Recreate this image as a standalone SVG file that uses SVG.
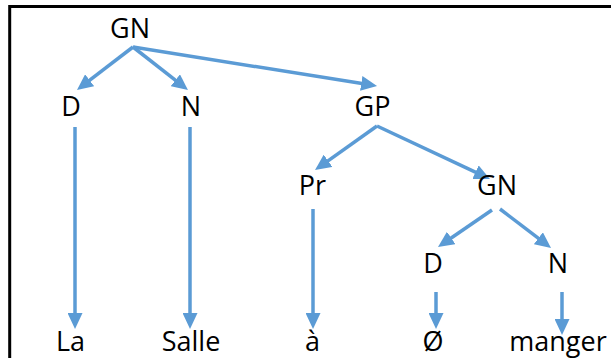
<svg xmlns="http://www.w3.org/2000/svg" width="611" height="358" viewBox="0 0 611 358">
<style>
.t{font-family:"Open Sans","Noto Sans","Liberation Sans",sans-serif;font-size:27px;fill:#000;text-anchor:middle}
.c line{stroke:#5B9BD5;stroke-width:3.5;marker-end:url(#ah)}
</style>
<defs>
<marker id="ah" markerUnits="userSpaceOnUse" markerWidth="16" markerHeight="15" refX="4" refY="7.5" orient="auto" viewBox="0 0 16 15">
<path d="M0,0 L16,7.5 L0,15 z" fill="#5B9BD5"/>
</marker>
</defs>
<rect width="611" height="358" fill="#fff"/>
<path d="M9.7,358 V6.5 H611" fill="none" stroke="#000" stroke-width="3"/>
<g class="c" id="connectors">
<line x1="133" y1="47" x2="86.5" y2="82.7"/>
<line x1="133" y1="47" x2="178.5" y2="82.7"/>
<line x1="133" y1="47" x2="365.2" y2="84.1"/>
<line x1="75" y1="127" x2="75" y2="317"/>
<line x1="190" y1="127" x2="190" y2="317"/>
<line x1="377" y1="126" x2="324.8" y2="163.1"/>
<line x1="377" y1="126" x2="479.1" y2="173.9"/>
<line x1="313" y1="209" x2="313" y2="317"/>
<line x1="492" y1="210" x2="447.9" y2="240.2"/>
<line x1="500" y1="209" x2="541.5" y2="240.7"/>
<line x1="436" y1="292" x2="436" y2="317"/>
<line x1="562" y1="292" x2="562" y2="323"/>
</g>
<g id="n-GN"><text class="t" x="130" y="38">GN</text></g>
<g id="n-D"><text class="t" x="71" y="116">D</text></g>
<g id="n-N"><text class="t" x="191" y="116">N</text></g>
<g id="n-GP"><text class="t" x="372.5" y="116">GP</text></g>
<g id="n-Pr"><text class="t" x="312.5" y="195">Pr</text></g>
<g id="n-GN2"><text class="t" x="497" y="195">GN</text></g>
<g id="n-D2"><text class="t" x="433" y="273">D</text></g>
<g id="n-N2"><text class="t" x="558" y="273">N</text></g>
<g id="n-La"><text class="t" x="70.5" y="351">La</text></g>
<g id="n-Salle"><text class="t" x="191" y="351">Salle</text></g>
<g id="n-a"><text class="t" x="312.5" y="351">à</text></g>
<g id="n-O"><text class="t" x="433" y="351">Ø</text></g>
<g id="n-manger"><text class="t" x="558" y="351">manger</text></g>
</svg>
